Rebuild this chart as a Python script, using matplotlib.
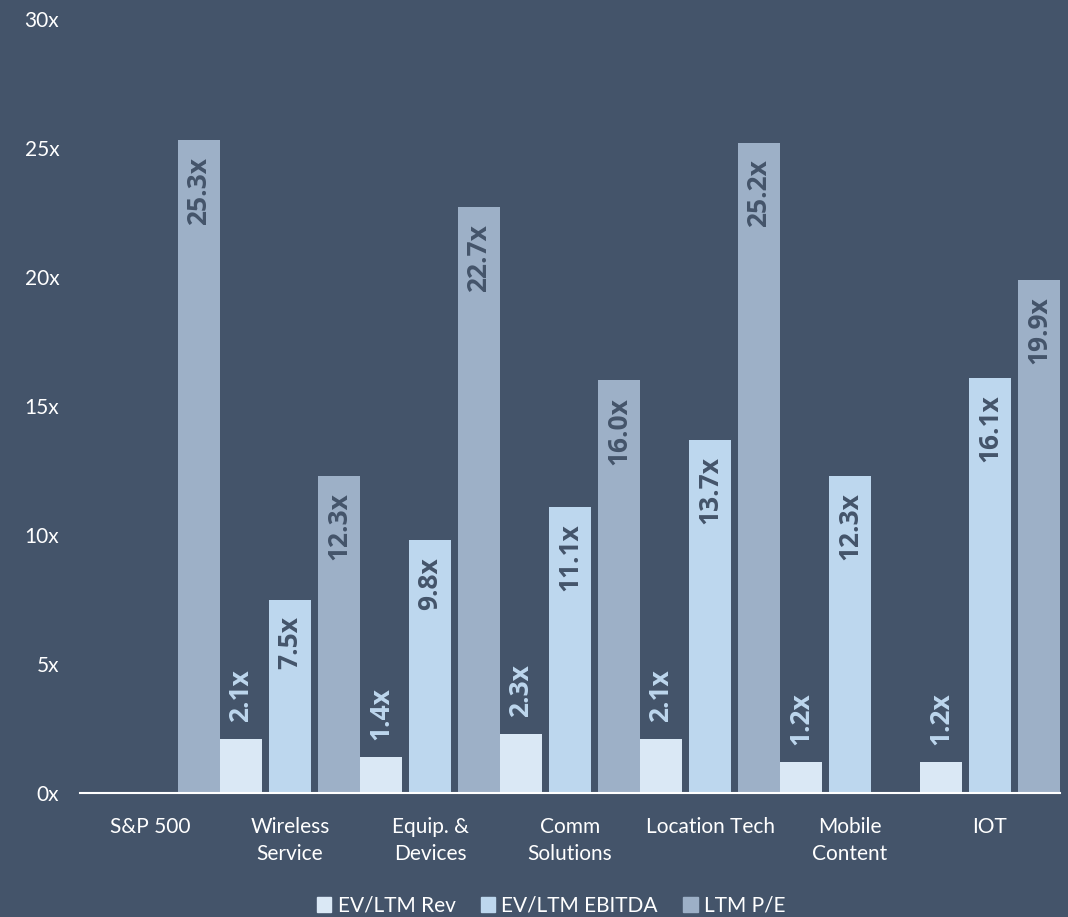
import numpy as np
import matplotlib
matplotlib.use("Agg")
import matplotlib.pyplot as plt
from matplotlib.patches import Patch

categories = ["S&P 500", "Wireless\nService", "Equip. &\nDevices", "Comm\nSolutions",
              "Location Tech", "Mobile\nContent", "IOT"]
ev_rev = [np.nan, 2.1, 1.4, 2.3, 2.1, 1.2, 1.2]
ev_ebitda = [np.nan, 7.5, 9.8, 11.1, 13.7, 12.3, 16.1]
ltm_pe = [25.3, 12.3, 22.7, 16.0, 25.2, np.nan, 19.9]
series_names = ["EV/LTM Rev", "EV/LTM EBITDA", "LTM P/E"]
yticks = [0, 5, 10, 15, 20, 25, 30]

BG = "#44546A"
C_REV = "#DAE8F5"
C_EB = "#BDD7EE"
C_PE = "#9DB0C7"
FONT = ["Lato", "DejaVu Sans"]
BOLD = ["Open Sans", "DejaVu Sans"]
plt.rcParams['font.family'] = FONT

fig = plt.figure(figsize=(10.68, 9.17), dpi=100, facecolor=BG)
ax = fig.add_axes([80/1068, (917-793)/917, 980/1068, 774/917], facecolor=BG)

x = np.arange(len(categories))
w = 0.3
step = 0.35
ax.bar(x - step, ev_rev, w, color=C_REV, zorder=2)
ax.bar(x, ev_ebitda, w, color=C_EB, zorder=2)
ax.bar(x + step, ltm_pe, w, color=C_PE, zorder=2)

LBL_SIZE = 19
for xi, v in zip(x - step, ev_rev):
    if not np.isnan(v):
        ax.annotate(f"{v:.1f}x", (xi, v), xytext=(0, 12), textcoords="offset points",
                    rotation=90, ha="center", va="bottom", fontsize=LBL_SIZE,
                    fontweight="bold", family=BOLD, color=C_EB)
for xs, vals in ((x, ev_ebitda), (x + step, ltm_pe)):
    for xi, v in zip(xs, vals):
        if not np.isnan(v):
            ax.annotate(f"{v:.1f}x", (xi, v), xytext=(0, -12), textcoords="offset points",
                        rotation=90, ha="center", va="top", fontsize=LBL_SIZE,
                        fontweight="bold", family=BOLD, color=BG)

ax.set_xlim(-0.5, len(categories) - 0.5)
ax.set_ylim(0, 30)
ax.set_yticks(yticks)
ax.set_yticklabels([f"{t}x" for t in yticks])
ax.set_xticks(x)
ax.set_xticklabels(categories, linespacing=1.45)
ax.tick_params(axis="both", length=0, colors="white", labelsize=15)
ax.tick_params(axis="y", pad=15)
ax.tick_params(axis="x", pad=17)
for s in ["top", "right", "left"]:
    ax.spines[s].set_visible(False)
ax.spines["bottom"].set_color("white")
ax.spines["bottom"].set_linewidth(1.5)
ax.spines["bottom"].set_zorder(3)

handles = [Patch(color=C_REV), Patch(color=C_EB), Patch(color=C_PE)]
fig.legend(handles, series_names, loc="center", bbox_to_anchor=(0.516, (917-906)/917),
           ncol=3, frameon=False, fontsize=15, labelcolor="white",
           handlelength=0.7, handleheight=0.7, handletextpad=0.3, columnspacing=1.2)

fig.savefig("out.png", dpi=100, facecolor=BG)
